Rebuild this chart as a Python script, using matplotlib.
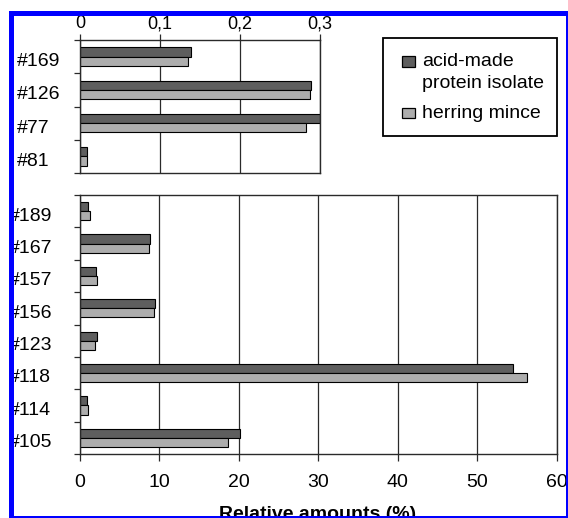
import numpy as np
import matplotlib
matplotlib.use("Agg")
import matplotlib.pyplot as plt
from matplotlib.patches import Rectangle

plt.rcParams["font.family"] = ["Liberation Sans", "DejaVu Sans"]

# upper panel (small amounts)
upper_cats = ["#169", "#126", "#77", "#81"]
upper_acid = [0.139, 0.289, 0.300, 0.009]
upper_mince = [0.135, 0.287, 0.283, 0.009]
upper_ticks = [0, 0.1, 0.2, 0.3]
upper_ticklabels = ["0", "0,1", "0,2", "0,3"]

# lower panel
lower_cats = ["#189", "#167", "#157", "#156", "#123", "#118", "#114", "#105"]
lower_acid = [1.1, 8.9, 2.1, 9.5, 2.2, 54.5, 1.0, 20.2]
lower_mince = [1.3, 8.8, 2.2, 9.4, 1.9, 56.3, 1.1, 18.7]
lower_ticks = [0, 10, 20, 30, 40, 50, 60]

legend_labels = ["acid-made\nprotein isolate", "herring mince"]

W, H = 568, 518
dark = "#5e5e5e"
light = "#adadad"
gridc = "#2a2a2a"


def px_rect(x0, y0, x1, y1):
    # pixel box (top-left origin) -> figure fraction rect
    return [x0 / W, 1 - y1 / H, (x1 - x0) / W, (y1 - y0) / H]


fig = plt.figure(figsize=(W / 100, H / 100), dpi=100)
ax1 = fig.add_axes(px_rect(80, 40, 320, 173))
ax2 = fig.add_axes(px_rect(79.5, 195, 556.7, 454))


def draw_panel(ax, cats, acid, mince, label_pad):
    y = np.arange(len(cats))
    h = 0.28
    ax.barh(y - h / 2, acid, height=h, color=dark, edgecolor="black", linewidth=0.8)
    ax.barh(y + h / 2, mince, height=h, color=light, edgecolor="black", linewidth=0.8)
    ax.set_ylim(len(cats) - 0.5, -0.5)
    # labels sit a little below the category centre, as in the original
    ax.set_yticks(y + 0.09)
    ax.set_yticklabels(cats, fontsize=14, ha="left")
    ax.set_yticks(np.arange(len(cats) + 1) - 0.5, minor=True)
    ax.tick_params(axis="y", which="major", length=0, pad=label_pad)
    ax.tick_params(axis="y", which="minor", length=4, width=0.9, direction="out", color=gridc)
    ax.set_axisbelow(True)
    ax.grid(axis="x", color=gridc, linewidth=0.9)
    for s in ax.spines.values():
        s.set_color(gridc)
        s.set_linewidth(1.0)


draw_panel(ax1, upper_cats, upper_acid, upper_mince, 45.5)
ax1.set_xlim(0, 0.3)
ax1.set_xticks(upper_ticks)
ax1.set_xticklabels(upper_ticklabels, fontsize=13)
ax1.xaxis.tick_top()
ax1.tick_params(axis="x", length=4, width=0.9, pad=1.5, color=gridc)

draw_panel(ax2, lower_cats, lower_acid, lower_mince, 50.5)
ax2.set_xlim(0, 60)
ax2.set_xticks(lower_ticks)
ax2.set_xticklabels([str(t) for t in lower_ticks], fontsize=14)
ax2.tick_params(axis="x", length=5, width=0.9, pad=9.5, color=gridc)

fig.text(318 / W, 1 - 519 / H, "Relative amounts (%)", fontsize=14,
         fontweight="bold", ha="center", va="baseline")

# legend box
fig.add_artist(Rectangle((383 / W, 1 - 136 / H), 174 / W, 98 / H,
                         transform=fig.transFigure, facecolor="white",
                         edgecolor="black", linewidth=1.3))
for (ytop, col, lab) in [(56.5, dark, legend_labels[0]), (107.5, light, legend_labels[1])]:
    fig.add_artist(Rectangle((401.5 / W, 1 - (ytop + 10.5) / H), 13 / W, 10.5 / H,
                             transform=fig.transFigure, facecolor=col,
                             edgecolor="black", linewidth=0.9))
fig.text(422 / W, 1 - 66.5 / H, "acid-made", fontsize=14, va="baseline")
fig.text(422 / W, 1 - 88 / H, "protein isolate", fontsize=14, va="baseline")
fig.text(422 / W, 1 - 118 / H, "herring mince", fontsize=14, va="baseline")

# blue frame
fig.add_artist(Rectangle((10.8 / W, 1 - 517.5 / H), (567.5 - 10.8) / W, (517.5 - 12.5) / H,
                         transform=fig.transFigure, facecolor="none",
                         edgecolor="#0000ff", linewidth=3.6, zorder=20, clip_on=False))

fig.savefig("out.png", dpi=100)
